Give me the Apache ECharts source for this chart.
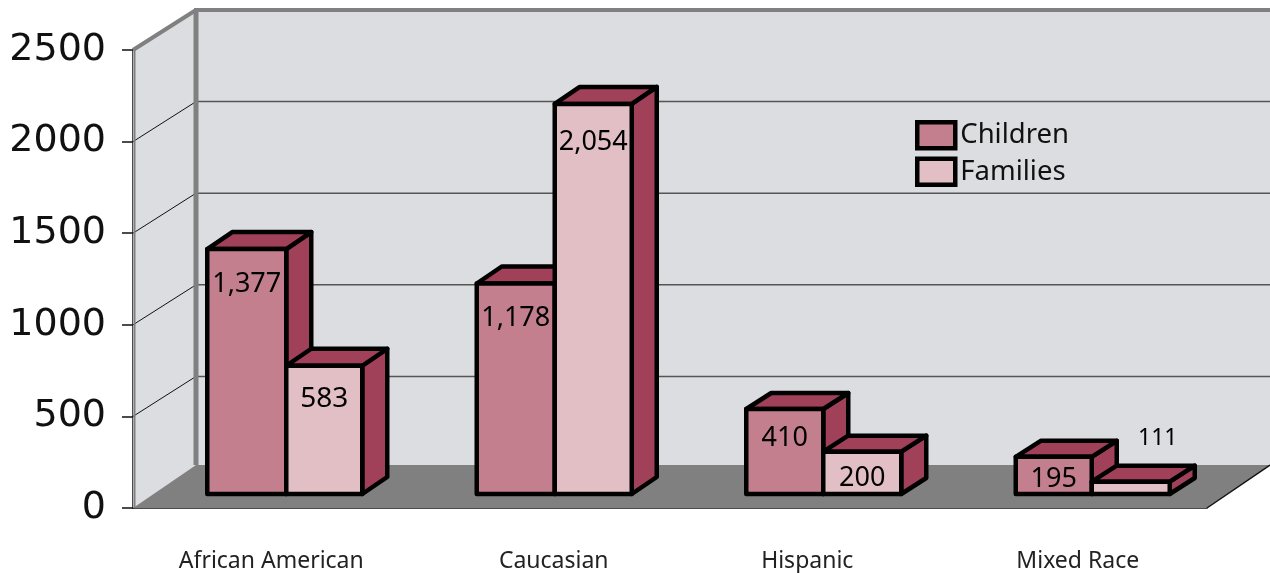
<!DOCTYPE html>
<html><head><meta charset="utf-8">
<style>html,body{margin:0;padding:0;background:#fff}#c{width:1270px;height:573px}</style>
<script src="https://cdn.jsdelivr.net/npm/echarts@6/dist/echarts.min.js"></script>
</head><body><div id="c"></div>
<script>
const categories = ['African American', 'Caucasian', 'Hispanic', 'Mixed Race'];
const tickValues = [0, 500, 1000, 1500, 2000, 2500];
// Heights as drawn against the axis (the printed labels differ from them in the picture)
const childrenValues = [1337, 1149, 464, 203];
const familiesValues = [700, 2129, 231, 67];
const childrenLabels = ['1,377', '1,178', '410', '195'];
const familiesLabels = ['583', '2,054', '200', '111'];

const FONT = '"Noto Sans", sans-serif';
const WALL = '#dcdde0', FLOOR = '#808080', DARK = '#a04059';
const childLabelDrop = [35, 35, 29, 23];
const famLabelDrop = [33, 38, 27, -43];
const famLabelX = [0, 0, 0, 27];
const famLabelSize = [28, 27, 27, 23];
const catShift = [8, 36, 6, 10];
const childWidth = [79, 78, 77, 76];
const famWidth = [76, 77, 78, 78];
const depthY = [-17, -17, -16, -16];

function wallItem(params, api) {
  const left = 133, right = 1207, dx = 63;
  const yF = v => api.coord([0, v])[1];
  const yB = v => yF(v) - 40;
  const floorY = yF(0) - 43;
  const kids = [];
  const poly = (pts, fill) => ({type: 'polygon', shape: {points: pts}, style: {fill: fill}});
  const line = (x1, y1, x2, y2, c, w) => ({type: 'line', shape: {x1, y1, x2, y2}, style: {stroke: c, lineWidth: w}});
  kids.push(poly([[left, yF(0)], [left, yF(2500)], [left + dx, yB(2500)], [left + dx, floorY]], WALL));
  kids.push(poly([[left + dx, floorY], [left + dx, yB(2500)], [right + dx, yB(2500)], [right + dx, floorY]], WALL));
  kids.push(poly([[left, yF(0)], [left + dx, floorY], [right + dx, floorY], [right, yF(0)]], FLOOR));
  tickValues.forEach(v => {
    if (v === 0 || v === 2500) return;
    kids.push(line(left + dx, yB(v), right + dx, yB(v), '#555', 1.5));
    kids.push(line(left, yF(v), left + dx, yB(v), '#111', 1));
  });
  kids.push(line(left + dx, floorY, left + dx, yB(2500), FLOOR, 5));
  kids.push(line(left + dx - 2, yB(2500), right + dx, yB(2500), FLOOR, 4));
  kids.push(line(left, yF(2500), left + dx, yB(2500), FLOOR, 4));
  kids.push(line(left + 1.5, yF(0), left + 1.5, yF(2500), FLOOR, 2));
  kids.push(line(right, yF(0), right + dx, floorY, '#111', 1.5));
  return {type: 'group', children: kids};
}

function barItem(kind) {
  return function (params, api) {
    const i = api.value(0), v = api.value(1);
    const cx = api.coord([i, 0])[0] + 19;
    const base = api.coord([i, 0])[1] - 14;
    const top = api.coord([i, v])[1] - 14;
    const isChild = kind === 0;
    const xl = isChild ? cx - childWidth[i] : cx, xr = isChild ? cx : cx + famWidth[i];
    const ddx = 25, ddy = depthY[i];
    const stroke = {stroke: '#000', lineWidth: 4.5, lineJoin: 'round'};
    const face = (pts, fill) => ({type: 'polygon', shape: {points: pts}, style: Object.assign({fill}, stroke)});
    const kids = [
      face([[xr, top], [xr + ddx, top + ddy], [xr + ddx, base + ddy], [xr, base]], DARK),
      face([[xl, top], [xl + ddx, top + ddy], [xr + ddx, top + ddy], [xr, top]], DARK),
      face([[xl, top], [xr, top], [xr, base], [xl, base]], isChild ? '#c37f8e' : '#e1bfc4')
    ];
    const lab = isChild ? childrenLabels[i] : familiesLabels[i];
    const ly = top + (isChild ? childLabelDrop[i] : famLabelDrop[i]);
    const lx = (xl + xr) / 2 + (isChild ? 0 : famLabelX[i]);
    kids.push({type: 'text', style: {
      text: lab, x: lx, y: ly,
      align: 'center', verticalAlign: 'middle', fill: '#000',
      font: (isChild ? 27 : famLabelSize[i]) + 'px ' + FONT
    }});
    return {type: 'group', children: kids};
  };
}

const rich = {};
catShift.forEach((s, i) => { rich['c' + i] = {padding: [0, 0, 0, s], fontSize: 23, fontFamily: FONT, color: '#222'}; });

const chart = echarts.init(document.getElementById('c'), null, {renderer: 'canvas'});
chart.setOption({
  animation: false,
  backgroundColor: '#fff',
  grid: {left: 133, right: 63, top: 50, bottom: 65, outerBoundsMode: 'none'},
  legend: {
    left: 915, top: 120, orient: 'vertical', itemWidth: 38, itemHeight: 26, itemGap: 6, padding: 0,
    selectedMode: false, icon: 'rect',
    data: ['Children', 'Families'],
    itemStyle: {borderColor: '#000', borderWidth: 4.5},
    textStyle: {fontSize: 27.5, fontFamily: FONT, color: '#111'}
  },
  xAxis: {
    type: 'category', data: categories,
    axisLine: {show: true, lineStyle: {color: '#111', width: 1.5}},
    axisTick: {show: false},
    axisLabel: {
      interval: 0, margin: 42,
      formatter: (val) => '{c' + categories.indexOf(val) + '|' + val + '}',
      rich: rich
    }
  },
  yAxis: {
    type: 'value', min: 0, max: 2500, interval: 500,
    splitLine: {show: false},
    axisLine: {show: true, lineStyle: {color: '#111', width: 1.5}},
    axisTick: {show: true, length: 11, lineStyle: {color: '#111', width: 1.5}},
    axisLabel: {margin: 27, fontSize: 38, fontFamily: '"DejaVu Sans", sans-serif', color: '#111', padding: [0, 0, 5, 0],
      formatter: v => String(v)}
  },
  series: [
    {type: 'custom', name: 'walls', renderItem: wallItem, data: [[0, 0]], silent: true, z: 1},
    {type: 'custom', name: 'Children', renderItem: barItem(0), z: 3,
      itemStyle: {color: '#c37f8e', borderColor: '#000', borderWidth: 4.5},
      data: childrenValues.map((v, i) => [i, v]), encode: {x: 0, y: 1}},
    {type: 'custom', name: 'Families', renderItem: barItem(1), z: 4,
      itemStyle: {color: '#e1bfc4', borderColor: '#000', borderWidth: 4.5},
      data: familiesValues.map((v, i) => [i, v]), encode: {x: 0, y: 1}}
  ]
});
</script></body></html>
